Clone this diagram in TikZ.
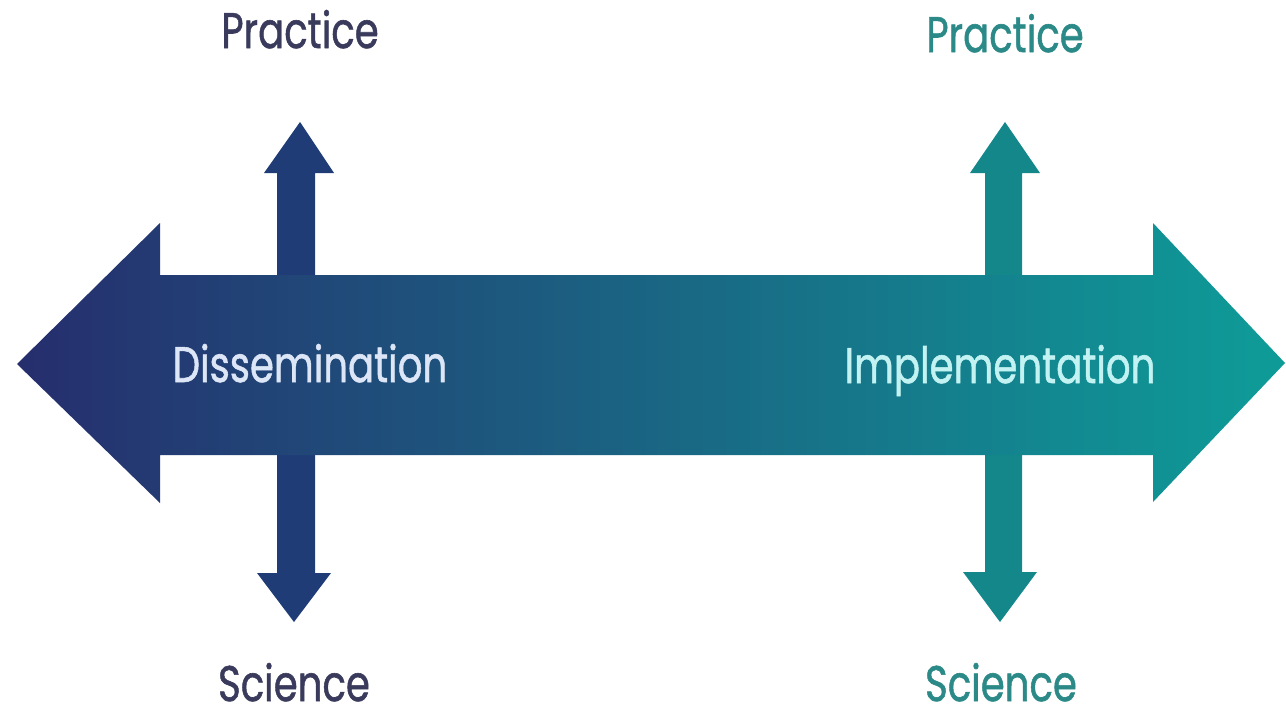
\documentclass[tikz,border=0pt]{standalone}
\usepackage{fontspec}
\setmainfont{Poppins}[FakeBold=1.2]
\definecolor{navy}{HTML}{262E6E}
\definecolor{tealr}{HTML}{0E9C98}
\definecolor{vnavy}{HTML}{1F3C76}
\definecolor{vteal}{HTML}{13878A}
\definecolor{txtnavy}{HTML}{3A3B5C}
\definecolor{txtteal}{HTML}{2B8A87}
\definecolor{inl}{HTML}{DCE6F6}
\definecolor{inr}{HTML}{C2F2F2}
\newcommand{\stretchtxt}[1]{\scalebox{1.16}[1.5]{#1}}
\tikzset{
  lbl/.style={font=\fontsize{25}{30}\selectfont, inner sep=0pt, anchor=base}
}
\begin{document}
\begin{tikzpicture}[x=0.75pt,y=-0.75pt]
\useasboundingbox (0,0) rectangle (1286,711);
% vertical arrows (behind)
\fill[vnavy] (300,122) -- (334,173) -- (315,173) -- (315,573) -- (331,573) -- (294,622) -- (257,573) -- (277,573) -- (277,173) -- (264,173) -- cycle;
\fill[vteal] (1005,122) -- (1040,173) -- (1022,173) -- (1022,572) -- (1037,572) -- (1000,622) -- (963,572) -- (985,572) -- (985,173) -- (970,173) -- cycle;
% main double arrow
\shade[left color=navy, right color=tealr] (17,364) -- (160,223) -- (160,275) -- (1153,275) -- (1153,223) -- (1285,363) -- (1153,502) -- (1153,455) -- (160,455) -- (160,503) -- cycle;
% labels
\node[lbl, text=txtnavy] (p1) at (300,48) {\stretchtxt{Practice}};
\node[lbl, text=txtnavy] (s1) at (294,701) {\stretchtxt{Science}};
\node[lbl, text=txtteal] (p2) at (1005,52) {\stretchtxt{Practice}};
\node[lbl, text=txtteal] (s2) at (1001,701) {\stretchtxt{Science}};
\node[lbl, text=inl] (d) at (310,382) {\stretchtxt{Dissemination}};
\node[lbl, text=inr] (i) at (1000,383) {\stretchtxt{Implementation}};
\end{tikzpicture}
\end{document}
